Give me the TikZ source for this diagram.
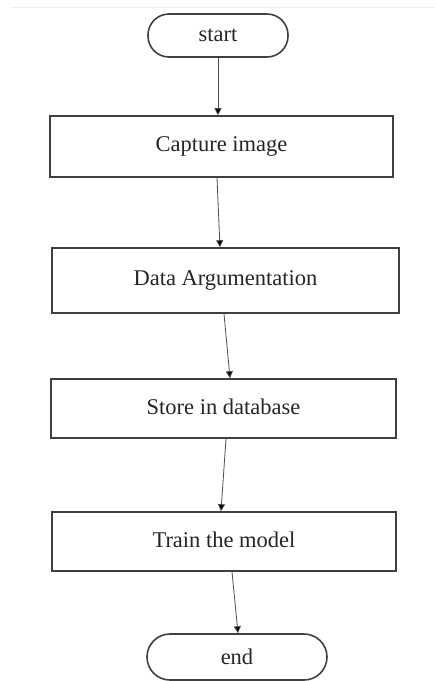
\documentclass[tikz,border=0pt]{standalone}
\usepackage{fontspec}
\setmainfont{Liberation Serif}
\usetikzlibrary{arrows.meta}

\tikzset{
  boxline/.style={draw=black!75, line width=1.6pt},
  procbox/.style={boxline, rectangle, inner sep=0pt,
    font=\fontsize{22.5}{26}\selectfont, text=black!85},
  termbox/.style={boxline, rectangle, rounded corners=21pt, inner sep=0pt,
    font=\fontsize{22.5}{26}\selectfont, text=black!85},
  flow/.style={draw=black!70, line width=0.8pt,
    -{Triangle[length=7pt,width=7pt,fill=black]}},
}

\begin{document}
\begin{tikzpicture}[x=1pt, y=-1pt]
  % page frame
  \fill[white] (0,0) rectangle (435,681);
  \useasboundingbox (0,0) rectangle (435,681);
  \draw[gray!12, line width=0.8pt] (10,7) -- (435,7);

  % terminals and process steps
  \node[termbox, minimum width=140pt, minimum height=43pt] (start) at (218,35.5) {start};
  \node[procbox, minimum width=343pt, minimum height=61pt] (b1) at (221.5,146.5) {\raisebox{3pt}{Capture image}};
  \node[procbox, minimum width=347pt, minimum height=65pt] (b2) at (225.5,280.5) {\raisebox{3pt}{Data Argumentation}};
  \node[procbox, minimum width=345pt, minimum height=59pt] (b3) at (223.5,408.5) {\raisebox{3pt}{Store in database}};
  \node[procbox, minimum width=344pt, minimum height=59pt] (b4) at (224,541.5) {\raisebox{3pt}{Train the model}};
  \node[termbox, rounded corners=23pt, minimum width=180pt, minimum height=46pt] (end) at (237,657) {end};

  % connectors
  \draw[flow] (start.south) -- ([xshift=-3.5pt]b1.north);
  \draw[flow] ([xshift=-4.5pt]b1.south) -- ([xshift=-5.5pt]b2.north);
  \draw[flow] ([xshift=-1.5pt]b2.south) -- ([xshift=6.5pt]b3.north);
  \draw[flow] ([xshift=2.5pt]b3.south) -- ([xshift=-3pt]b4.north);
  \draw[flow] ([xshift=8pt]b4.south) -- ([xshift=1pt]end.north);
\end{tikzpicture}
\end{document}
